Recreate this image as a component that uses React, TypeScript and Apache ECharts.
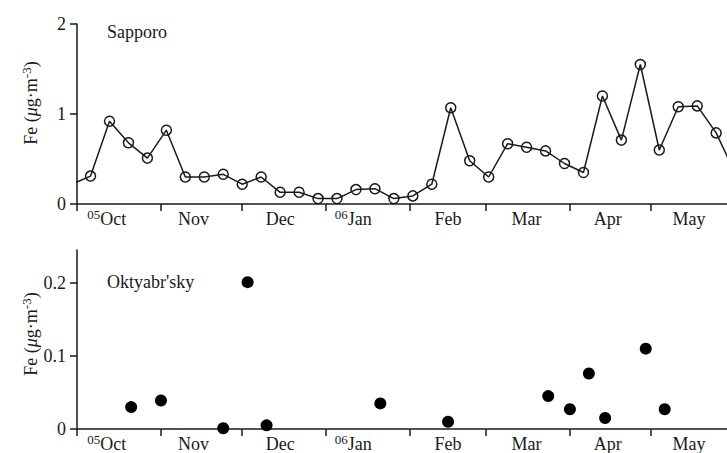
import React, { useEffect, useRef } from 'react';
import * as echarts from 'echarts';

// x values: days since 2005-10-01
const monthTickDays = [0, 31, 61, 92, 123, 151, 182, 212];
const monthLabels = ['05Oct', 'Nov', 'Dec', '06Jan', 'Feb', 'Mar', 'Apr', 'May'];
const monthLabelDays = [11, 43, 75, 102, 137, 166, 196, 226];

const sapporoDays = [-2, 5, 12, 19, 26, 33, 40, 47, 54, 61, 68, 75, 82, 89, 96, 103, 110, 117, 124, 131, 138, 145, 152, 159, 166, 173, 180, 187, 194, 201, 208, 215, 222, 229, 236, 243];
const sapporoFe = [0.22, 0.31, 0.92, 0.68, 0.51, 0.82, 0.30, 0.30, 0.33, 0.22, 0.30, 0.13, 0.13, 0.06, 0.06, 0.16, 0.17, 0.06, 0.09, 0.22, 1.07, 0.48, 0.30, 0.67, 0.63, 0.59, 0.45, 0.35, 1.20, 0.71, 1.55, 0.60, 1.08, 1.09, 0.79, 0.34];

const oktDays = [20, 31, 54, 63, 70, 112, 137, 174, 182, 189, 195, 210, 217];
const oktFe = [0.030, 0.039, 0.001, 0.201, 0.005, 0.035, 0.010, 0.045, 0.027, 0.076, 0.015, 0.110, 0.027];

const topTicks = [0, 1, 2];
const bottomTicks = [0, 0.1, 0.2];

const FONT = "'Liberation Serif', 'DejaVu Serif', serif";
const INK = '#1a1a1a';
const FS = 18;

export default function App() {
  const ref = useRef<HTMLDivElement>(null);
  useEffect(() => {
    if (!ref.current) return;
    const chart = echarts.init(ref.current, undefined, { renderer: 'svg' });
    const labelMap = new Map<number, string>();
    monthLabelDays.forEach((d, i) => labelMap.set(d, monthLabels[i]));
    const monthFormatter = (v: number) => {
      const s = labelMap.get(v) || '';
      if (s.length === 5 && /^\d\d/.test(s)) return `{s|${s.slice(0, 2)}}{n|${s.slice(2)}}`;
      return `{n|${s}}`;
    };
    const xAxisBase = (gridIndex: number) => ({
      type: 'value',
      gridIndex,
      min: 0,
      max: 240,
      axisLine: { lineStyle: { color: INK, width: 1.5 } },
      axisTick: { show: true, customValues: monthTickDays, length: 7, lineStyle: { color: INK, width: 1.5 } },
      axisLabel: {
        customValues: monthLabelDays,
        formatter: monthFormatter,
        margin: 4,
        color: INK,
        fontFamily: FONT,
        rich: {
          n: { fontSize: FS, fontFamily: FONT, color: INK, lineHeight: 22 },
          s: { fontSize: 13, fontFamily: FONT, color: INK, verticalAlign: 'top', lineHeight: 13 },
        },
      },
      splitLine: { show: false },
    });
    const yAxisBase = (gridIndex: number, max: number, ticks: number[]) => ({
      type: 'value',
      gridIndex,
      min: 0,
      max,
      axisLine: { show: true, lineStyle: { color: INK, width: 1.5 } },
      axisTick: { show: true, customValues: ticks, length: 7, lineStyle: { color: INK, width: 1.5 } },
      axisLabel: {
        customValues: ticks,
        margin: 11,
        fontSize: FS,
        fontFamily: FONT,
        color: INK,
        formatter: (v: number) => String(v),
      },
      splitLine: { show: false },
    });
    const yTitle = (y: number) => ({
      type: 'text',
      x: 31,
      y,
      rotation: Math.PI / 2,
      style: {
        text: '{n|Fe (}{i|μ}{n|g·m}{s|-3}{n|)}',
        align: 'center',
        verticalAlign: 'middle',
        fill: INK,
        rich: {
          n: { fontSize: FS, fontFamily: FONT, fill: INK, lineHeight: 22 },
          i: { fontSize: FS, fontFamily: FONT, fontStyle: 'italic', fill: INK, lineHeight: 22 },
          s: { fontSize: 13, fontFamily: FONT, fill: INK, verticalAlign: 'top', lineHeight: 11 },
        },
      },
    });
    chart.setOption({
      animation: false,
      backgroundColor: '#ffffff',
      grid: [
        { left: 77, right: 0, top: 24, height: 180 },
        { left: 77, right: 0, top: 250, height: 180 },
      ],
      xAxis: [xAxisBase(0), xAxisBase(1)],
      yAxis: [yAxisBase(0, 2, topTicks), yAxisBase(1, 0.245, bottomTicks)],
      series: [
        {
          type: 'line',
          xAxisIndex: 0,
          yAxisIndex: 0,
          data: sapporoDays.map((d, i) => [d, sapporoFe[i]]),
          clip: true,
          symbol: 'circle',
          symbolSize: 10,
          lineStyle: { color: INK, width: 1.5 },
          itemStyle: { color: 'rgba(0,0,0,0)', borderColor: INK, borderWidth: 1.5 },
        },
        {
          type: 'scatter',
          xAxisIndex: 1,
          yAxisIndex: 1,
          data: oktDays.map((d, i) => [d, oktFe[i]]),
          symbol: 'circle',
          symbolSize: 12,
          itemStyle: { color: '#000', opacity: 1 },
        },
      ],
      graphic: [
        { type: 'text', left: 107, top: 23, style: { text: 'Sapporo', font: `${FS}px ${FONT}`, fill: INK } },
        { type: 'text', left: 107, top: 273, style: { text: "Oktyabr'sky", font: `${FS}px ${FONT}`, fill: INK } },
        yTitle(103),
        yTitle(334),
      ],
    });
    return () => chart.dispose();
  }, []);
  return <div ref={ref} style={{ position: 'fixed', left: 0, top: 0, width: 727, height: 453 }} />;
}
